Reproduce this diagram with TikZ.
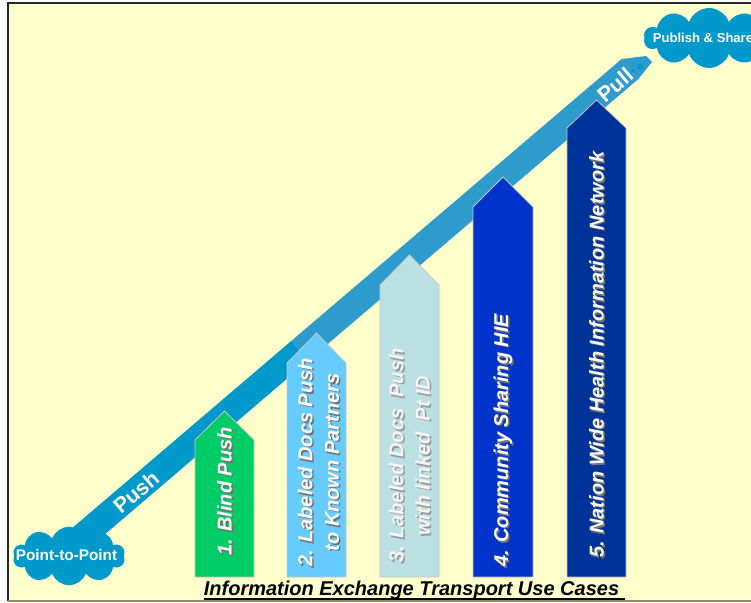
\documentclass[tikz,border=0pt]{standalone}
\usepackage{fontspec}
\setmainfont{Liberation Sans}
\usepackage{tikz}
\usetikzlibrary{shapes.symbols}
\definecolor{paper}{HTML}{FFFFCC}
\definecolor{pushblue}{HTML}{0099CC}
\definecolor{pullblue}{HTML}{2E9BCD}
\definecolor{caseone}{HTML}{00CC66}
\definecolor{casetwo}{HTML}{66CCFF}
\definecolor{casethree}{HTML}{BBE0E3}
\definecolor{casefour}{HTML}{0033CC}
\definecolor{casefive}{HTML}{003399}

\begin{document}
\begin{tikzpicture}[x=0.75pt, y=-0.75pt,
    usecase/.style={draw=gray!45, line width=0.6pt},
    casetext/.style={rotate=90, anchor=west, inner sep=0pt, align=center, text=white,
        font=\fontsize{15}{20}\selectfont\bfseries\itshape},
    caseshadow/.style={casetext, text=black!55},
    bandtext/.style={rotate=40.5, text=white, inner sep=0pt, font=\fontsize{16}{18}\selectfont\bfseries},
    puff/.style={cloud, cloud puffs=10, cloud puff arc=140, fill=pushblue, inner sep=0pt},
    pufftext/.style={text=white, inner sep=0pt, font=\bfseries}]
    \useasboundingbox (0,0) rectangle (751,603);
    \clip (0,0) rectangle (751,603);

    % Paper and frame
    \fill[white] (0,0) rectangle (751,603);
    \fill[paper] (8,3) rectangle (770,601);
    \draw[black!85, line width=1.2pt] (770,3) -- (8,3) -- (8,601);
    \draw[gray!70!olive, line width=1.2pt] (8,601) -- (770,601);

    % The push / pull band
    \fill[pushblue] (61.6,537.1) -- (291.6,340.7) -- (308.4,360.5) -- (78.4,556.9) -- cycle;
    \fill[pullblue] (291.6,340.7) -- (621.6,59.1) -- (646,56) -- (652,62) -- (638.4,78.9) -- (308.4,360.5) -- cycle;
    \fill[pushblue] (633,71) circle (1.5pt) (640.5,66.5) circle (2.6pt);
    \node[bandtext] (push) at (136,492) {Push};
    \node[bandtext] (pull) at (615,85) {Pull};

    % Clouds at both ends
    \node[puff, minimum width=84pt, minimum height=44pt] (p2p) at (69,556) {};
    \node[pufftext, font=\fontsize{11.5}{13}\selectfont\bfseries] (p2p-text) at (66.5,555) {Point-to-Point};
    \node[puff, minimum width=97.5pt, minimum height=45pt] (share) at (709,38) {};
    \node[pufftext, font=\fontsize{9.8}{12}\selectfont\bfseries] (share-text) at (703,38) {Publish \& Share};

    % Use case arrows
    \filldraw[usecase, fill=caseone] (195,577) -- (195,440) -- (224.5,411) -- (254,440) -- (254,577) -- cycle;
    \filldraw[usecase, fill=casetwo] (287,577) -- (287,363) -- (316.5,333) -- (346,363) -- (346,577) -- cycle;
    \filldraw[usecase, fill=casethree] (380,577) -- (380,285) -- (409.5,255) -- (439,285) -- (439,577) -- cycle;
    \filldraw[usecase, fill=casefour] (473,577) -- (473,207) -- (503,177) -- (533,207) -- (533,577) -- cycle;
    \filldraw[usecase, fill=casefive] (567,577) -- (567,128) -- (596.5,100) -- (626,128) -- (626,577) -- cycle;

    % Use case labels (shadow first)
    \node[caseshadow] (blind-s) at (226,557.5) {1. Blind Push};
    \node[casetext] (blind) at (224.5,556) {1. Blind Push};
    \node[caseshadow] (known-s) at (320,568.5) {2. Labeled Docs Push\\to Known Partners};
    \node[casetext] (known) at (318.5,567) {2. Labeled Docs Push\\to Known Partners};
    \node[caseshadow, text=black!40] (linked-s) at (411,564.5) {3. Labeled Docs\ \ Push\\with linked\ \ Pt ID};
    \node[casetext, text=white!92!gray] (linked) at (409.5,563) {3. Labeled Docs\ \ Push\\with linked\ \ Pt ID};
    \node[caseshadow] (community-s) at (504.5,568.5) {4. Community Sharing HIE};
    \node[casetext] (community) at (503,567) {4. Community Sharing HIE};
    \node[caseshadow] (nation-s) at (598,559.5) {5. Nation Wide Health Information Network};
    \node[casetext] (nation) at (596.5,558) {5. Nation Wide Health Information Network};

    % Title
    \node[anchor=base, inner sep=0pt, font=\fontsize{15}{18}\selectfont\bfseries\itshape] (title) at (411.5,595) {Information Exchange Transport Use Cases};
    \draw[line width=1.4pt] ([yshift=-3pt]title.base west) -- ([xshift=4pt,yshift=-3pt]title.base east);
\end{tikzpicture}
\end{document}
